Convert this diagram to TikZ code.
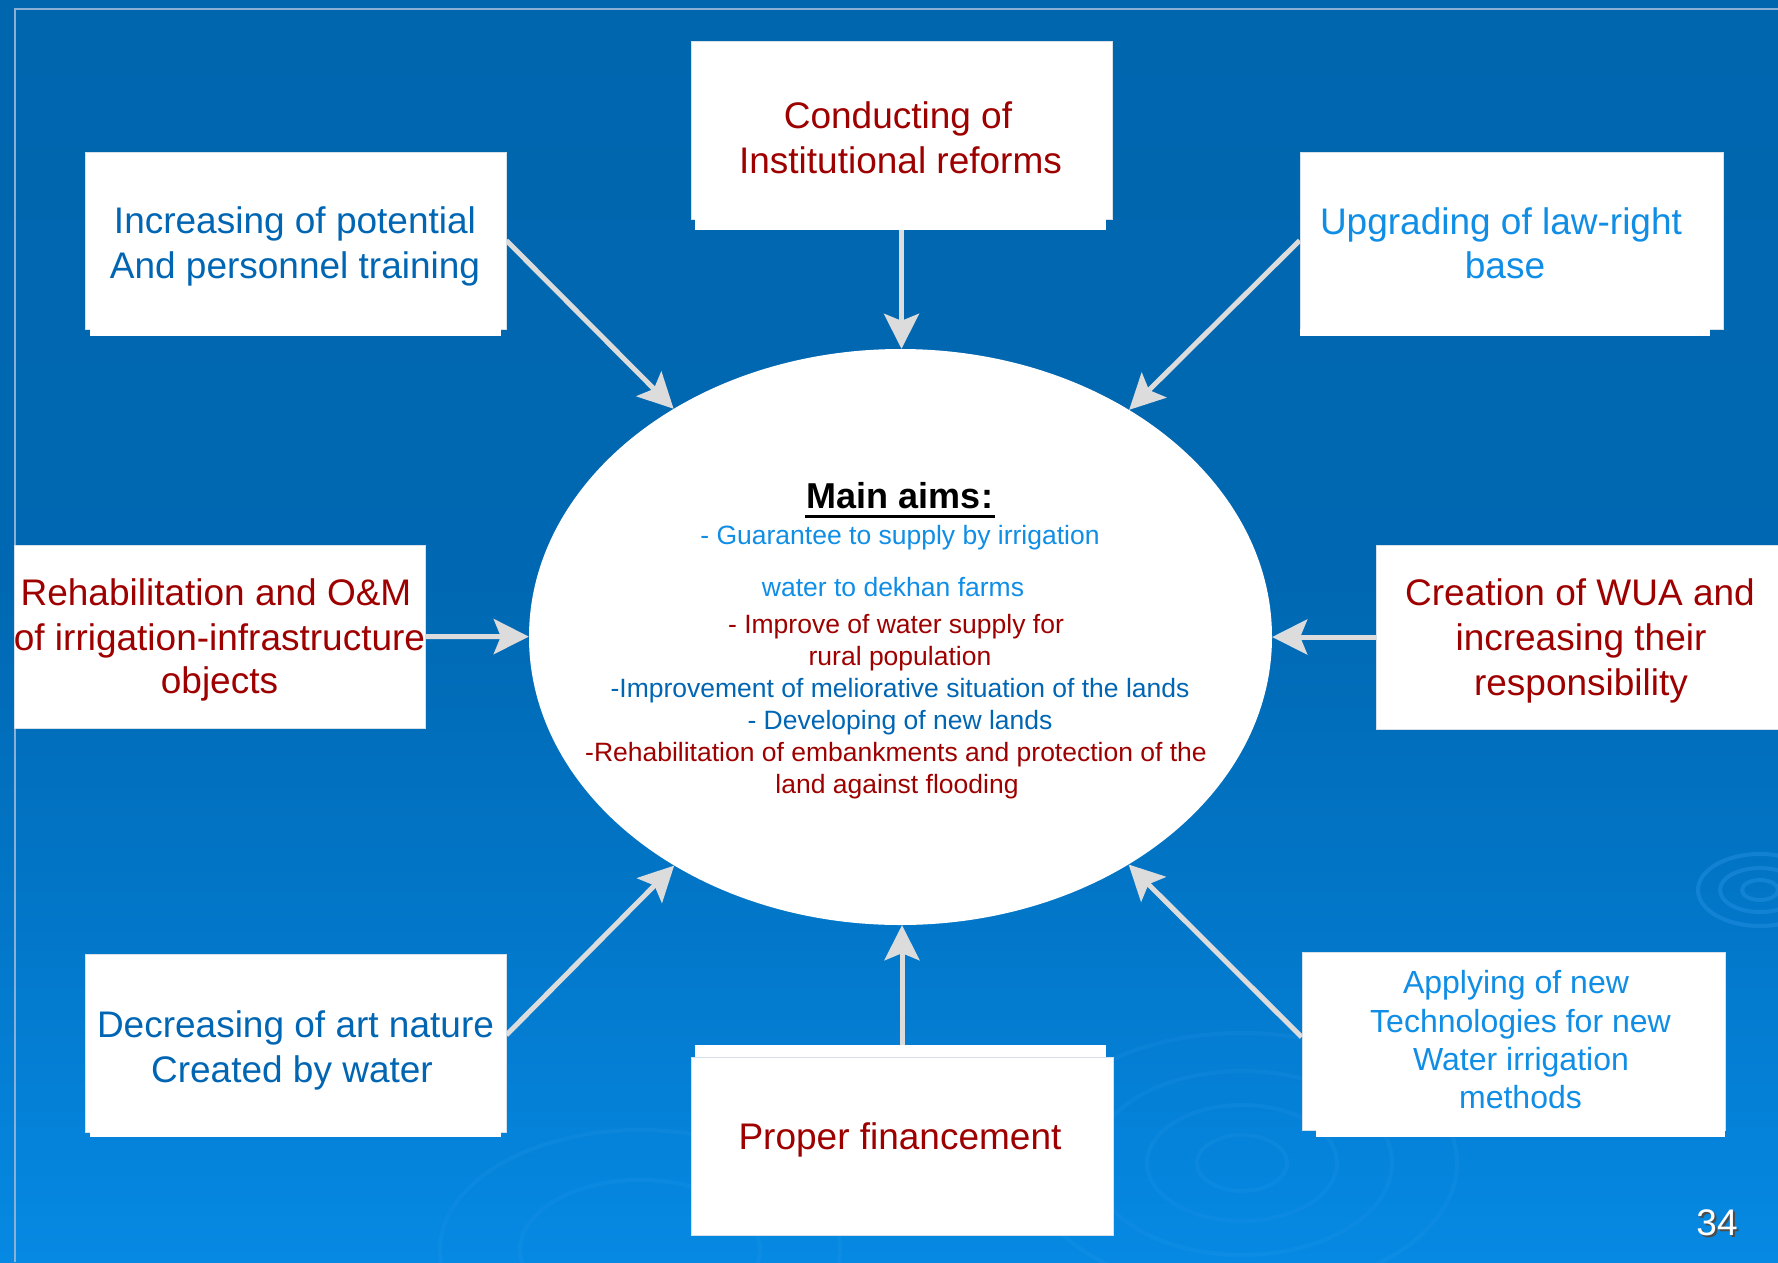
\documentclass[tikz,border=0pt]{standalone}
\usepackage{fontspec}
\setmainfont{Liberation Sans}
\usetikzlibrary{arrows.meta,shapes.geometric}
\definecolor{bgtop}{HTML}{0066AE}
\definecolor{bgmid}{HTML}{0068B2}
\definecolor{bgmidb}{HTML}{0275C6}
\definecolor{bgbot}{HTML}{0689E3}
\definecolor{dred}{HTML}{9E0000}
\definecolor{mblue}{HTML}{0066B3}
\definecolor{lblue}{HTML}{108EE6}
\definecolor{arr}{HTML}{DCDCDC}
\definecolor{frameln}{HTML}{8AB0D6}
\definecolor{boxedge}{HTML}{D5E0EA}
\definecolor{ripple}{HTML}{3AA2F0}
\pgfdeclareverticalshading{bgsh}{100bp}{color(0bp)=(bgbot); color(25bp)=(bgbot); color(40bp)=(bgmidb); color(52bp)=(bgmid); color(75bp)=(bgtop); color(100bp)=(bgtop)}
\pgfdeclarelayer{bg}
\pgfdeclarelayer{arrows}
\pgfsetlayers{bg,arrows,main}
\begin{document}
\begin{tikzpicture}[x=1pt,y=-1pt,
  boxshape/.style={rectangle, fill=white, draw=boxedge, line width=0.8pt, inner sep=0pt},
  strip/.style={fill=white},
  big/.style={inner sep=0pt, anchor=base, font=\fontsize{37}{44}\selectfont},
  mid/.style={inner sep=0pt, anchor=base, font=\fontsize{32}{38}\selectfont},
  aimtext/.style={inner sep=0pt, anchor=base, font=\fontsize{26.5}{32}\selectfont},
  conn/.style={draw=arr, line width=5pt, -{Stealth[length=35pt, width=35pt, inset=7pt]}}
]
\useasboundingbox (0,0) rectangle (1778,1262);
\begin{pgfonlayer}{bg}
  \fill[shading=bgsh] (0,0) rectangle (1778,1262);
  \begin{scope}[draw=ripple, opacity=0.3, line width=4pt]
    \draw (1760,890) ellipse [x radius=18, y radius=10];
    \draw (1760,890) ellipse [x radius=40, y radius=22];
    \draw (1760,890) ellipse [x radius=62, y radius=36];
  \end{scope}
  \begin{scope}[draw=ripple, opacity=0.13, line width=4pt]
    \draw (1242,1163) ellipse [x radius=45, y radius=28];
    \draw (1242,1163) ellipse [x radius=95, y radius=58];
    \draw (1242,1163) ellipse [x radius=150, y radius=92];
    \draw (1242,1163) ellipse [x radius=215, y radius=130];
    \draw (640,1250) ellipse [x radius=120, y radius=70];
    \draw (640,1250) ellipse [x radius=200, y radius=120];
  \end{scope}
  \draw[frameln, line width=1.2pt] (15,1262) -- (15,9) -- (1778,9);
\end{pgfonlayer}

% central ellipse
\node[ellipse, fill=white, minimum width=743pt, minimum height=576pt, inner sep=0pt] (aims) at (900.5,637) {};

% boxes
\node[boxshape, minimum width=421pt, minimum height=178pt] (b1) at (901.5,130) {};
\fill[strip] (695,219) rectangle (1106,230);
\node[boxshape, minimum width=421pt, minimum height=177pt] (b2) at (295.5,240.5) {};
\fill[strip] (90,329) rectangle (501,336);
\node[boxshape, minimum width=423pt, minimum height=177pt] (b3) at (1511.5,240.5) {};
\fill[strip] (1300,329) rectangle (1710,336);
\node[boxshape, minimum width=411pt, minimum height=183pt] (b4) at (219.5,636.5) {};
\node[boxshape, minimum width=420pt, minimum height=184pt] (b5) at (1586,637) {};
\node[boxshape, minimum width=421pt, minimum height=178pt] (b6) at (295.5,1043) {};
\fill[strip] (90,1132) rectangle (501,1137);
\node[boxshape, minimum width=422pt, minimum height=178pt] (b7) at (902,1146) {};
\fill[strip] (695,1045) rectangle (1106,1057);
\node[boxshape, minimum width=423pt, minimum height=178pt] (b8) at (1513.5,1041) {};
\fill[strip] (1316,1130) rectangle (1725,1137);

% connectors
\begin{pgfonlayer}{arrows}
  \draw[conn] (b1.south) -- (b1.south |- aims.north);
  \draw[conn] (b7.north) -- (b7.north |- aims.south);
  \draw[conn] (b4.east) -- (aims);
  \draw[conn] (b5.west) -- (aims);
  \draw[conn] (b2.east) -- (aims);
  \draw[conn] (b3.west) -- (aims);
  \draw[conn] ([yshift=8pt]b6.east) -- (aims);
  \draw[conn] ([yshift=4pt]b8.west) -- (aims);
\end{pgfonlayer}

% box texts
\node[big, text=dred] (t1a) at (898,128.5) {Conducting of};
\node[big, text=dred] (t1b) at (900.5,173) {Institutional reforms};
\node[big, text=mblue] (t2a) at (295,233) {Increasing of potential};
\node[big, text=mblue] (t2b) at (295,278) {And personnel training};
\node[big, text=lblue] (t3a) at (1501,234) {Upgrading of law-right};
\node[big, text=lblue] (t3b) at (1505,278) {base};
\node[big, text=dred] (t4a) at (216,605) {Rehabilitation and O\&M};
\node[big, text=dred] (t4b) at (219.5,650) {of irrigation-infrastructure};
\node[big, text=dred] (t4c) at (219.5,693) {objects};
\node[big, text=dred] (t5a) at (1580,605) {Creation of WUA and};
\node[big, text=dred] (t5b) at (1581,650) {increasing their};
\node[big, text=dred] (t5c) at (1581,695) {responsibility};
\node[big, text=mblue] (t6a) at (295.5,1037) {Decreasing of art nature};
\node[big, text=mblue] (t6b) at (292,1082) {Created by water};
\node[big, text=dred] (t7a) at (900,1149) {Proper financement};
\node[mid, text=lblue] (t8a) at (1516,993) {Applying of new};
\node[mid, text=lblue] (t8b) at (1520.5,1032) {Technologies for new};
\node[mid, text=lblue] (t8c) at (1521,1070) {Water irrigation};
\node[mid, text=lblue] (t8d) at (1520.5,1108) {methods};

% ellipse texts
\node[inner sep=0pt, anchor=base, font=\fontsize{36}{42}\selectfont\bfseries] (m0) at (900,508) {Main aims:};
\draw[line width=3pt] ([yshift=-8pt,xshift=-2pt]m0.base west) -- ([yshift=-8pt,xshift=2pt]m0.base east);
\node[aimtext, text=lblue] (m1) at (900,544) {- Guarantee to supply by irrigation};
\node[aimtext, text=lblue] (m2) at (893,596) {water to dekhan farms};
\node[aimtext, text=dred] (m3) at (896,633) {- Improve of water supply for};
\node[aimtext, text=dred] (m4) at (900,665) {rural population};
\node[aimtext, text=mblue] (m5) at (900,697) {-Improvement of meliorative situation of the lands};
\node[aimtext, text=mblue] (m6) at (900,729) {- Developing of new lands};
\node[aimtext, text=dred] (m7) at (896,761) {-Rehabilitation of embankments and protection of the};
\node[aimtext, text=dred] (m8) at (897,793) {land against flooding};

% page number
\node[inner sep=0pt, anchor=base, font=\fontsize{37}{44}\selectfont, text=black!70] (pgs) at (1719,1237) {34};
\node[inner sep=0pt, anchor=base, font=\fontsize{37}{44}\selectfont, text=white] (pg) at (1717,1235) {34};
\end{tikzpicture}
\end{document}
